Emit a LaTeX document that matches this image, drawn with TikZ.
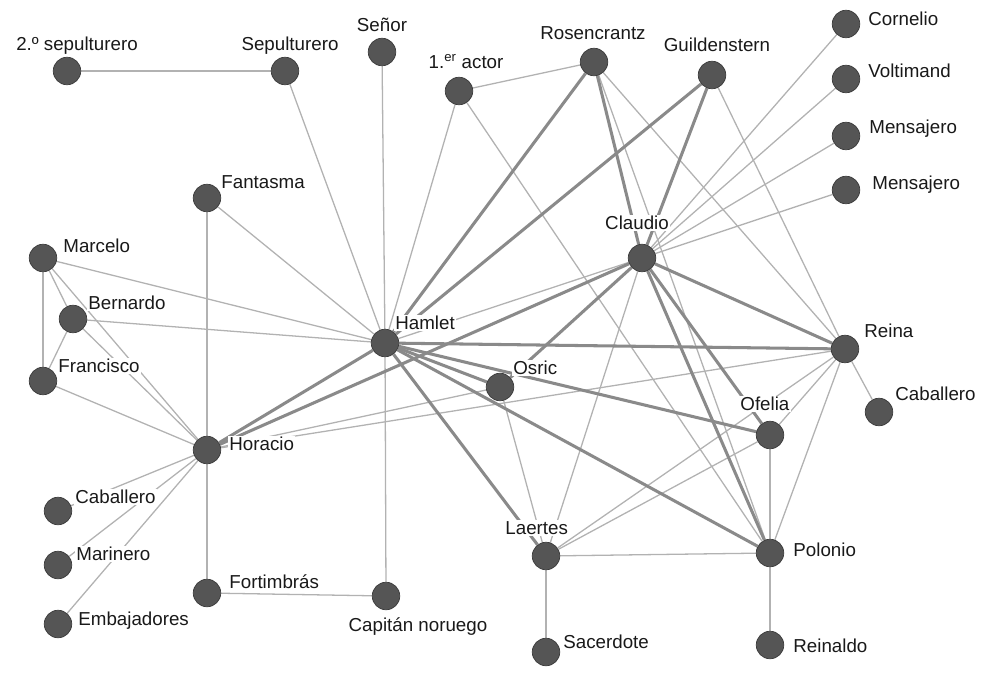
\documentclass[tikz,border=0pt]{standalone}
\usepackage{fontspec}
\setmainfont{Liberation Sans}
\usetikzlibrary{backgrounds}
\definecolor{nodo}{HTML}{555555}
\definecolor{borde}{HTML}{3A3A3A}
\definecolor{gleve}{HTML}{B2B2B2}
\definecolor{gfuerte}{HTML}{8A8A8A}
\begin{document}
\begin{tikzpicture}[x=0.03cm, y=-0.03cm,
  persona/.style={circle, fill=nodo, draw=borde, line width=0.6pt, minimum size=23.5pt, inner sep=0pt},
  nombre/.style={font=\fontsize{16}{18}\selectfont, text=black!90, fill=white, inner sep=1pt, text height=11.5pt, text depth=0pt},
  leve/.style={draw=gleve, line width=1.1pt},
  fuerte/.style={draw=gfuerte, line width=2.6pt}]
  %tikz  Hamlet, red de personajes
    \useasboundingbox (0,0) rectangle (990,675);
    \node[persona] (sep2) at (67,71) {};
    \node[persona] (sepul) at (285,71) {};
    \node[persona] (senor) at (382,52) {};
    \node[persona] (actor) at (459,91) {};
    \node[persona] (rosen) at (594,62) {};
    \node[persona] (guild) at (712,75) {};
    \node[persona] (cornelio) at (846,24) {};
    \node[persona] (voltimand) at (846,79) {};
    \node[persona] (mens1) at (846,136) {};
    \node[persona] (mens2) at (846,190) {};
    \node[persona] (fantasma) at (207,198) {};
    \node[persona] (claudio) at (642,258) {};
    \node[persona] (marcelo) at (43,258) {};
    \node[persona] (bernardo) at (73,319) {};
    \node[persona] (hamlet) at (385,343) {};
    \node[persona] (reina) at (845,349) {};
    \node[persona] (francisco) at (43,381) {};
    \node[persona] (osric) at (500,387) {};
    \node[persona] (cabR) at (879,412) {};
    \node[persona] (ofelia) at (770,435) {};
    \node[persona] (horacio) at (207,450) {};
    \node[persona] (cabL) at (58,511) {};
    \node[persona] (marinero) at (58,565) {};
    \node[persona] (embaj) at (58,624) {};
    \node[persona] (laertes) at (546,556) {};
    \node[persona] (polonio) at (770,553) {};
    \node[persona] (fortimbras) at (207,593) {};
    \node[persona] (capitan) at (386,596) {};
    \node[persona] (sacerdote) at (546,652) {};
    \node[persona] (reinaldo) at (770,645) {};

    \node[nombre] (t-sep2) at (77,44) {2.º sepulturero};
    \node[nombre] (t-sepul) at (290,44) {Sepulturero};
    \node[nombre] (t-senor) at (382,25) {Señor};
    \node[nombre] (t-actor) at (466,62) {1.\textsuperscript{er} actor};
    \node[nombre] (t-rosen) at (593,33) {Rosencrantz};
    \node[nombre] (t-guild) at (717,45) {Guildenstern};
    \node[nombre, anchor=west] (t-cornelio) at (867,19) {Cornelio};
    \node[nombre, anchor=west] (t-voltimand) at (867,71) {Voltimand};
    \node[nombre, anchor=west] (t-mens1) at (868,127) {Mensajero};
    \node[nombre, anchor=west] (t-mens2) at (871,183) {Mensajero};
    \node[nombre] (t-claudio) at (637,223) {Claudio};
    \node[nombre, anchor=west] (t-fantasma) at (220,182) {Fantasma};
    \node[nombre, anchor=west] (t-marcelo) at (62,246) {Marcelo};
    \node[nombre, anchor=west] (t-bernardo) at (87,303) {Bernardo};
    \node[nombre, anchor=west] (t-hamlet) at (394,323) {Hamlet};
    \node[nombre, anchor=west] (t-reina) at (863,331) {Reina};
    \node[nombre, anchor=west] (t-francisco) at (57,366) {Francisco};
    \node[nombre, anchor=west] (t-osric) at (512,368) {Osric};
    \node[nombre, anchor=west] (t-cabR) at (894,394) {Caballero};
    \node[nombre, anchor=west] (t-ofelia) at (739,404) {Ofelia};
    \node[nombre, anchor=west] (t-horacio) at (228,444) {Horacio};
    \node[nombre, anchor=west] (t-cabL) at (74,497) {Caballero};
    \node[nombre, anchor=west] (t-marinero) at (75,554) {Marinero};
    \node[nombre, anchor=west] (t-embaj) at (77,619) {Embajadores};
    \node[nombre, anchor=west] (t-laertes) at (504,528) {Laertes};
    \node[nombre, anchor=west] (t-polonio) at (792,550) {Polonio};
    \node[nombre, anchor=west] (t-fortimbras) at (228,582) {Fortimbrás};
    \node[nombre] (t-capitan) at (418,625) {Capitán noruego};
    \node[nombre, anchor=west] (t-sacerdote) at (562,642) {Sacerdote};
    \node[nombre, anchor=west] (t-reinaldo) at (792,646) {Reinaldo};

  \begin{scope}[on background layer]
    \draw[leve] (sep2) -- (sepul);
    \draw[leve] (sepul) -- (hamlet);
    \draw[leve] (senor) -- (hamlet);
    \draw[leve] (actor) -- (hamlet);
    \draw[leve] (actor) -- (rosen);
    \draw[leve] (actor) -- (polonio);
    \draw[leve] (fantasma) -- (hamlet);
    \draw[leve] (fantasma) -- (horacio);
    \draw[leve] (marcelo) -- (hamlet);
    \draw[leve] (marcelo) -- (bernardo);
    \draw[leve] (marcelo) -- (francisco);
    \draw[leve] (marcelo) -- (horacio);
    \draw[leve] (bernardo) -- (hamlet);
    \draw[leve] (bernardo) -- (francisco);
    \draw[leve] (bernardo) -- (horacio);
    \draw[leve] (francisco) -- (horacio);
    \draw[leve] (horacio) -- (cabL);
    \draw[leve] (horacio) -- (marinero);
    \draw[leve] (horacio) -- (embaj);
    \draw[leve] (horacio) -- (fortimbras);
    \draw[leve] (fortimbras) -- (capitan);
    \draw[leve] (capitan) -- (hamlet);
    \draw[leve] (horacio) -- (osric);
    \draw[leve] (horacio) -- (reina);
    \draw[leve] (hamlet) -- (claudio);
    \draw[leve] (osric) -- (laertes);
    \draw[leve] (rosen) -- (polonio);
    \draw[leve] (rosen) -- (reina);
    \draw[leve] (guild) -- (reina);
    \draw[leve] (cornelio) -- (claudio);
    \draw[leve] (voltimand) -- (claudio);
    \draw[leve] (mens1) -- (claudio);
    \draw[leve] (mens2) -- (claudio);
    \draw[leve] (claudio) -- (laertes);
    \draw[leve] (reina) -- (ofelia);
    \draw[leve] (reina) -- (laertes);
    \draw[leve] (reina) -- (polonio);
    \draw[leve] (reina) -- (cabR);
    \draw[leve] (ofelia) -- (polonio);
    \draw[leve] (ofelia) -- (laertes);
    \draw[leve] (laertes) -- (polonio);
    \draw[leve] (laertes) -- (sacerdote);
    \draw[leve] (polonio) -- (reinaldo);
    \draw[fuerte] (rosen) -- (hamlet);
    \draw[fuerte] (guild) -- (hamlet);
    \draw[fuerte] (rosen) -- (claudio);
    \draw[fuerte] (guild) -- (claudio);
    \draw[fuerte] (hamlet) -- (reina);
    \draw[fuerte] (hamlet) -- (osric);
    \draw[fuerte] (hamlet) -- (ofelia);
    \draw[fuerte] (hamlet) -- (polonio);
    \draw[fuerte] (hamlet) -- (laertes);
    \draw[fuerte] (horacio) -- (hamlet);
    \draw[fuerte] (horacio) -- (claudio);
    \draw[fuerte] (claudio) -- (osric);
    \draw[fuerte] (claudio) -- (reina);
    \draw[fuerte] (claudio) -- (ofelia);
    \draw[fuerte] (claudio) -- (polonio);
  \end{scope}
  \end{tikzpicture}
\end{document}
